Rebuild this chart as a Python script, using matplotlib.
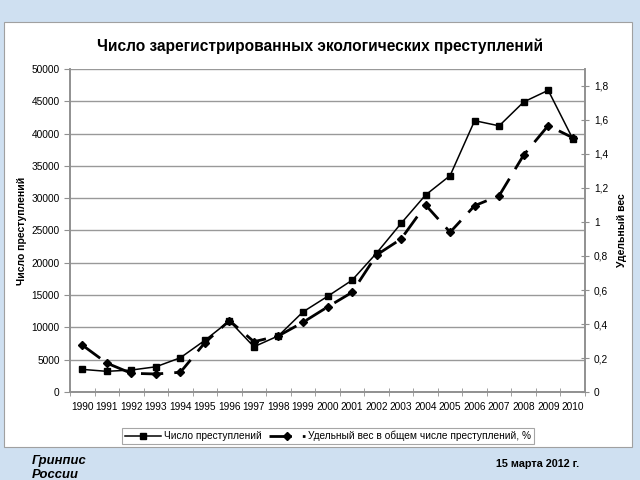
import numpy as np
import matplotlib
matplotlib.use('Agg')
import matplotlib.pyplot as plt
from matplotlib.patches import Rectangle

plt.rcParams['font.family'] = ['Liberation Sans', 'DejaVu Sans']

# данные с графика
years = [str(y) for y in range(1990, 2011)]
crimes = [3500, 3200, 3400, 3900, 5300, 8000, 11000, 7000, 8700, 12400, 14800,
          17300, 21500, 26100, 30500, 33500, 42000, 41200, 44900, 46700, 39200]
share = [0.276, 0.17, 0.11, 0.106, 0.116, 0.29, 0.42, 0.296, 0.33, 0.41, 0.5,
         0.586, 0.806, 0.9, 1.10, 0.94, 1.096, 1.155, 1.394, 1.567, 1.496]
left_ticks = list(range(0, 50001, 5000))
right_ticks = [0, 0.2, 0.4, 0.6, 0.8, 1.0, 1.2, 1.4, 1.6, 1.8]
right_labels = ['0', '0,2', '0,4', '0,6', '0,8', '1', '1,2', '1,4', '1,6', '1,8']

fig = plt.figure(figsize=(6.4, 4.8), dpi=100)
fig.patch.set_facecolor('#cfe0f1')

# белая подложка диаграммы
fig.add_artist(Rectangle((4 / 640, 1 - 447 / 480), 628 / 640, 425 / 480,
                         transform=fig.transFigure, facecolor='white',
                         edgecolor='#a0a0a0', linewidth=0.8, zorder=0))

ax = fig.add_axes([70 / 640, 1 - 392 / 480, 515 / 640, 323 / 480])
ax.set_facecolor('white')
x = np.arange(len(years))
ax2 = ax.twinx()

l1, = ax.plot(x, crimes, color='black', lw=1.1, marker='s', ms=5,
              zorder=3, label='Число преступлений')
l2, = ax2.plot(x, share, color='black', lw=2, marker='D', ms=4.5,
               dashes=(8, 4), label='Удельный вес в общем числе преступлений, %')

ax.set_xlim(-0.5, len(years) - 0.5)
ax.set_ylim(0, 50000)
ax2.set_ylim(0, 1.9)

ax.set_yticks(left_ticks)
ax.set_yticklabels([str(v) for v in left_ticks])
ax.yaxis.grid(True, color='#999999', lw=1)
ax.set_axisbelow(True)
ax2.set_yticks(right_ticks)
ax2.set_yticklabels(right_labels)

ax.set_xticks(x)
ax.set_xticklabels(years)
ax.set_xticks(np.arange(-0.5, len(years), 1), minor=True)
ax.tick_params(axis='x', which='major', length=0, pad=7, labelsize=7.3)
ax.tick_params(axis='x', which='minor', length=6, direction='inout', color='#909090')
ax.tick_params(axis='y', length=4, direction='out', color='#909090', labelsize=7.3)
ax2.tick_params(axis='y', length=6, direction='inout', color='#909090', labelsize=7.3)

for a in (ax, ax2):
    for s in a.spines.values():
        s.set_color('#909090')
        s.set_linewidth(1.2)
    a.spines['top'].set_visible(False)

ax.set_ylabel('Число преступлений', fontsize=7.5, fontweight='bold', labelpad=3)
ax2.set_ylabel('Удельный вес', fontsize=7.5, fontweight='bold', rotation=90, labelpad=6)

fig.text(0.5, 1 - 46 / 480, 'Число зарегистрированных экологических преступлений',
         ha='center', va='center', fontsize=11.2, fontweight='bold')

leg = fig.legend(handles=[l1, l2], loc='center', bbox_to_anchor=(328 / 640, 1 - 436 / 480),
                 ncol=2, fontsize=7.3, frameon=True, fancybox=False, handlelength=3.5,
                 handletextpad=0.3, columnspacing=0.8, borderpad=0.3)
leg.get_frame().set_edgecolor('#909090')
leg.get_frame().set_linewidth(0.8)

fig.text(32 / 640, 1 - 455 / 480, 'Гринпис\nРоссии', ha='left', va='top',
         fontsize=9.4, fontweight='bold', style='italic', linespacing=1.25)
fig.text(496 / 640, 1 - 464 / 480, '15 марта 2012 г.', ha='left', va='center',
         fontsize=7.8, fontweight='bold')

fig.savefig('out.png', dpi=100, facecolor=fig.get_facecolor())
